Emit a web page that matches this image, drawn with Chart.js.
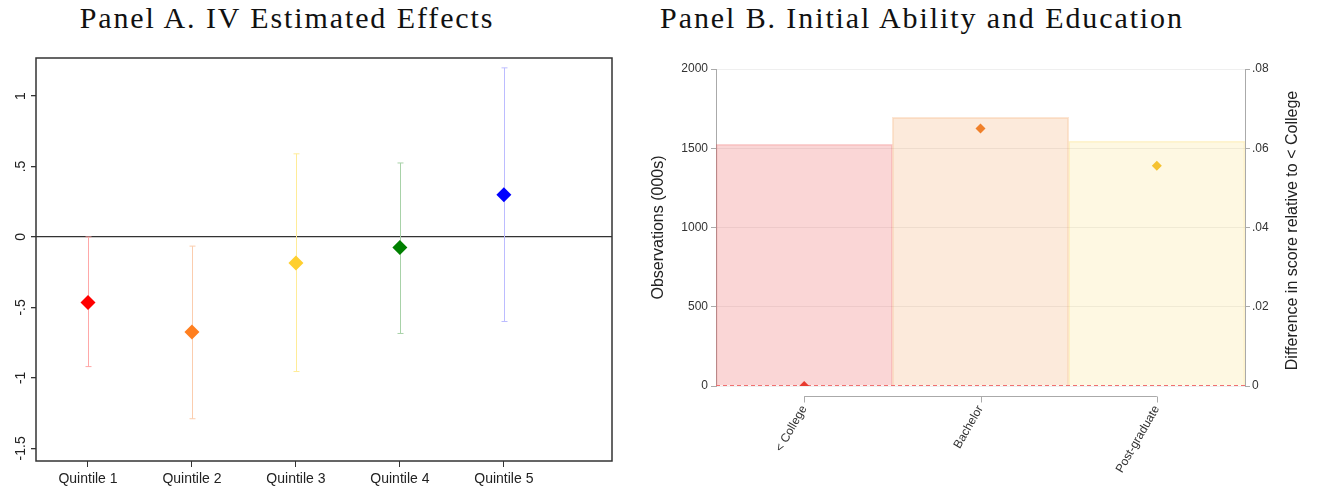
<!DOCTYPE html>
<html>
<head>
<meta charset="utf-8">
<title>IV effects and education</title>
<script src="https://cdn.jsdelivr.net/npm/chart.js@4.4.1/dist/chart.umd.min.js"></script>
<style>
  body { margin: 0; background: #fff; width: 1317px; height: 491px; overflow: hidden; position: relative; }
  .panel { position: absolute; top: 0; height: 491px; }
  .title {
    position: absolute; top: 3px; line-height: 30px; white-space: nowrap;
    font-family: 'Liberation Serif', serif; font-size: 30px; color: #111;
    transform: translateX(-50%); letter-spacing: 1.9px;
  }
</style>
</head>
<body>
<div class="title" style="left:287px">Panel A. IV Estimated Effects</div>
<div class="title" style="left:922px">Panel B. Initial Ability and Education</div>
<div class="panel" style="left:0;width:625px"><canvas id="panelA" width="625" height="491"></canvas></div>
<div class="panel" style="left:625px;width:692px"><canvas id="panelB" width="692" height="491"></canvas></div>
<script>
// Panel A: IV estimates by quintile
const quintiles = ['Quintile 1', 'Quintile 2', 'Quintile 3', 'Quintile 4', 'Quintile 5'];
const ivEffect = [-0.465, -0.675, -0.185, -0.075, 0.30];
const ciLower = [-0.92, -1.29, -0.955, -0.685, -0.60];
const ciUpper = [0.0, -0.065, 0.59, 0.525, 1.20];
const effectTicks = [-1.5, -1, -0.5, 0, 0.5, 1];
const quintileColors = ['#ff0000', '#ff7f1f', '#ffcf2f', '#008000', '#0000ff'];
const ciColors = ['#ffa8a8', '#fbcdae', '#ffec98', '#a8d2a8', '#bcbcff'];

// Panel B: observations and score gap by education
const education = ['< College', 'Bachelor', 'Post-graduate'];
const observations = [1525, 1695, 1545];
const scoreDiff = [0, 0.065, 0.0556];
const obsTicks = [0, 500, 1000, 1500, 2000];
const diffTicks = [0, 0.02, 0.04, 0.06, 0.08];
const eduColors = ['#e83a2e', '#f0802a', '#f5c231'];
const eduFill = ['rgba(232,50,50,0.2)', 'rgba(240,130,40,0.17)', 'rgba(250,210,60,0.15)'];
const eduBorder = ['rgba(232,50,50,0.22)', 'rgba(240,130,40,0.2)', 'rgba(250,210,60,0.22)'];

const sans = "'Liberation Sans', Arial, sans-serif";

// stata style numbers: .5, -1.5, .02
const stataNum = v => v === 0 ? '0' : (v < 0 ? '-' : '') + String(Math.abs(+v.toFixed(4))).replace(/^0/, '');

const errorBars = {
  id: 'errorBars',
  beforeDatasetsDraw(chart) {
    const { ctx, scales: { x, y } } = chart;
    ctx.save();
    ctx.lineWidth = 1;
    ivEffect.forEach((_, i) => {
      const px = Math.round(x.getPixelForValue(i + 1)) + 0.5;
      const top = y.getPixelForValue(ciUpper[i]);
      const bot = y.getPixelForValue(ciLower[i]);
      ctx.strokeStyle = ciColors[i];
      ctx.beginPath();
      ctx.moveTo(px, top); ctx.lineTo(px, bot);
      ctx.moveTo(px - 3, top); ctx.lineTo(px + 3, top);
      ctx.moveTo(px - 3, bot); ctx.lineTo(px + 3, bot);
      ctx.stroke();
    });
    ctx.restore();
  }
};

const plotFrame = {
  id: 'plotFrame',
  afterDraw(chart) {
    const { ctx, chartArea: a } = chart;
    ctx.save();
    ctx.strokeStyle = '#333';
    ctx.lineWidth = 1.5;
    ctx.strokeRect(a.left, a.top, a.right - a.left, a.bottom - a.top);
    ctx.restore();
  }
};

new Chart(document.getElementById('panelA'), {
  type: 'line',
  data: {
    datasets: [{
      data: ivEffect.map((v, i) => ({ x: i + 1, y: v })),
      showLine: false,
      pointStyle: 'rectRot',
      pointRadius: 7.5,
      pointBorderWidth: 0,
      pointBackgroundColor: quintileColors,
      pointBorderColor: quintileColors
    }]
  },
  options: {
    responsive: false,
    animation: false,
    devicePixelRatio: 1,
    layout: { padding: { top: 58, right: 13, left: 0, bottom: 0 } },
    plugins: { legend: { display: false }, tooltip: { enabled: false } },
    scales: {
      x: {
        type: 'linear',
        min: 0.5,
        max: 6.04,
        afterBuildTicks: s => { s.ticks = quintiles.map((q, i) => ({ value: i + 1 })); },
        afterFit: s => { s.height = 30; },
        grid: { drawOnChartArea: false, tickLength: 6, color: '#333' },
        border: { display: false },
        ticks: {
          padding: 4,
          color: '#222',
          font: { family: sans, size: 14 },
          callback: v => quintiles[v - 1]
        }
      },
      y: {
        min: -1.59,
        max: 1.27,
        afterBuildTicks: s => { s.ticks = effectTicks.map(v => ({ value: v })); },
        afterFit: s => { s.width = 36; },
        grid: {
          color: c => (c.tick && c.tick.value === 0 ? '#333' : 'rgba(0,0,0,0)'),
          tickColor: '#333',
          tickLength: 5,
          lineWidth: 1.3
        },
        border: { display: false },
        ticks: {
          minRotation: 90,
          maxRotation: 90,
          crossAlign: 'center',
          padding: -2,
          color: '#222',
          font: { family: sans, size: 14 },
          callback: v => stataNum(v)
        }
      }
    }
  },
  plugins: [errorBars, plotFrame]
});

// dashed reference line at zero, drawn over the bars but under the markers
const zeroLine = {
  id: 'zeroLine',
  afterDatasetDraw(chart, args) {
    if (args.index !== 0) return;
    const { ctx, chartArea: a, scales: { y2 } } = chart;
    const py = Math.round(y2.getPixelForValue(0)) - 0.5;
    ctx.save();
    ctx.strokeStyle = '#f07070';
    ctx.lineWidth = 1;
    ctx.setLineDash([4, 3]);
    ctx.beginPath();
    ctx.moveTo(a.left, py); ctx.lineTo(a.right, py);
    ctx.stroke();
    ctx.restore();
  }
};

// stata-like offset x axis and right axis title reading upwards
const panelBExtras = {
  id: 'panelBExtras',
  afterDraw(chart) {
    const { ctx, chartArea: a, scales: { x } } = chart;
    const first = x.getPixelForValue(0), last = x.getPixelForValue(education.length - 1);
    const ay = a.bottom + 10.5;
    ctx.save();
    ctx.strokeStyle = '#aaa';
    ctx.lineWidth = 1;
    ctx.beginPath();
    ctx.moveTo(first, ay); ctx.lineTo(last, ay);
    education.forEach((_, i) => {
      const px = Math.round(x.getPixelForValue(i)) + 0.5;
      ctx.moveTo(px, ay); ctx.lineTo(px, ay + 6);
    });
    ctx.stroke();

    ctx.translate(668, (a.top + a.bottom) / 2 + 3);
    ctx.rotate(-Math.PI / 2);
    ctx.fillStyle = '#222';
    ctx.font = '16px ' + sans;
    ctx.textAlign = 'center';
    ctx.textBaseline = 'middle';
    ctx.fillText('Difference in score relative to < College', 0, 0);
    ctx.restore();
  }
};

new Chart(document.getElementById('panelB'), {
  data: {
    labels: education,
    datasets: [{
      type: 'bar',
      data: observations,
      yAxisID: 'y',
      backgroundColor: eduFill,
      borderColor: eduBorder,
      borderWidth: 1,
      categoryPercentage: 1,
      barPercentage: 1,
      order: 2
    }, {
      type: 'line',
      data: scoreDiff,
      yAxisID: 'y2',
      showLine: false,
      pointStyle: 'rectRot',
      pointRadius: 5,
      pointBorderWidth: 0,
      pointBackgroundColor: eduColors,
      pointBorderColor: eduColors,
      order: 1
    }]
  },
  options: {
    responsive: false,
    animation: false,
    devicePixelRatio: 1,
    layout: { padding: { top: 69, right: 0, left: 0, bottom: 0 } },
    plugins: { legend: { display: false }, tooltip: { enabled: false } },
    scales: {
      x: {
        afterFit: s => { s.height = 105; },
        grid: { display: false, drawTicks: false },
        border: { display: false },
        ticks: {
          minRotation: 60,
          maxRotation: 60,
          padding: 17,
          color: '#333',
          font: { family: sans, size: 12 }
        }
      },
      y: {
        position: 'left',
        min: 0,
        max: 2000,
        afterBuildTicks: s => { s.ticks = obsTicks.map(v => ({ value: v })); },
        afterFit: s => { s.width = 91; },
        grid: { color: '#efefef', tickColor: '#aaa', tickLength: 5 },
        border: { display: true, color: '#aaa' },
        title: {
          display: true,
          text: 'Observations (000s)',
          color: '#222',
          font: { family: sans, size: 16 },
          padding: { top: 24, bottom: 0 }
        },
        ticks: {
          padding: 3,
          color: '#333',
          font: { family: sans, size: 12 },
          callback: v => String(v)
        }
      },
      y2: {
        position: 'right',
        min: 0,
        max: 0.08,
        afterBuildTicks: s => { s.ticks = diffTicks.map(v => ({ value: v })); },
        afterFit: s => { s.width = 72; },
        grid: { drawOnChartArea: false, color: '#aaa', tickLength: 5 },
        border: { display: true, color: '#aaa' },
        ticks: {
          padding: 2,
          color: '#333',
          font: { family: sans, size: 12 },
          callback: v => stataNum(v)
        }
      }
    }
  },
  plugins: [zeroLine, panelBExtras]
});
</script>
</body>
</html>
